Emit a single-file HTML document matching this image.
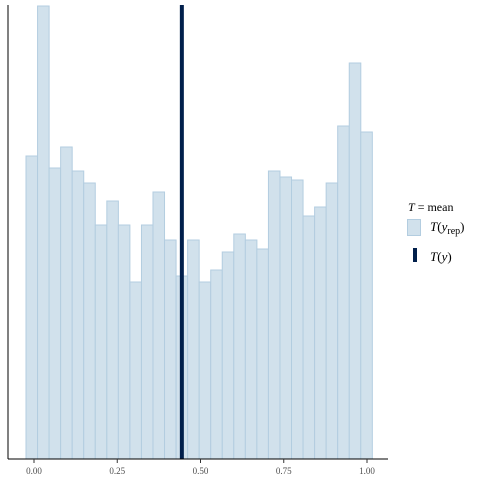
<!DOCTYPE html>
<html><head><meta charset="utf-8"><style>
html,body{margin:0;padding:0;background:#fff;}
svg{display:block;}
</style></head><body>
<svg id="chart" width="480" height="480" xmlns="http://www.w3.org/2000/svg">
<g id="bars"></g>
<line x1="8" y1="5" x2="8" y2="459" stroke="#000" stroke-width="1"/>
<line x1="8" y1="459" x2="388" y2="459" stroke="#000" stroke-width="1"/>
<g id="ticks"></g>
<g font-family="'Liberation Serif', serif" font-size="12" fill="#000">
<text x="408" y="211"><tspan font-style="italic">T</tspan> = mean</text>
<rect x="407.5" y="219.5" width="13" height="16" fill="#d1e1ec" stroke="#b3cde0"/>
<text x="430" y="231" font-size="13"><tspan font-style="italic">T</tspan>(<tspan font-style="italic">y</tspan><tspan font-size="10" dy="3">rep</tspan><tspan dy="-3">)</tspan></text>
<rect x="413" y="248" width="4" height="14" fill="#011f4b"/>
<text x="430" y="261" font-size="13"><tspan font-style="italic">T</tspan>(<tspan font-style="italic">y</tspan>)</text>
</g>
</svg>
<script>
const binStarts = [-0.024,0.0107,0.0453,0.0800,0.1147,0.1493,0.1840,0.2187,0.2533,0.2880,0.3227,0.3573,0.3920,0.4267,0.4613,0.4960,0.5307,0.5653,0.6000,0.6347,0.6693,0.7040,0.7387,0.7733,0.8080,0.8427,0.8773,0.9120,0.9467,0.9813];
const binWidth = 0.03467;
const counts = [101,151,97,104,96,92,78,86,78,59,78,89,73,61,73,59,63,69,75,73,70,96,94,93,81,84,92,111,132,109];
const observedStat = [0.444];
const tickValues = [0, 0.25, 0.5, 0.75, 1];
const tickLabels = ["0.00","0.25","0.50","0.75","1.00"];

const NS = "http://www.w3.org/2000/svg";
function xs(v){ return 34 + v*333; }
function ys(c){ return 459 - c*3; }

const barsG = document.getElementById('bars');
counts.forEach((c,i)=>{
  const r = document.createElementNS(NS,'rect');
  const x0 = xs(binStarts[i]), x1 = xs(binStarts[i]+binWidth);
  r.setAttribute('x', x0);
  r.setAttribute('y', ys(c));
  r.setAttribute('width', x1-x0);
  r.setAttribute('height', 459-ys(c));
  r.setAttribute('fill','#d1e1ec');
  r.setAttribute('stroke','#b3cde0');
  r.setAttribute('stroke-width','1');
  
  
  barsG.appendChild(r);
});
const vl = document.createElementNS(NS,'line');
vl.setAttribute('x1', xs(observedStat[0]));
vl.setAttribute('x2', xs(observedStat[0]));
vl.setAttribute('y1', 5);
vl.setAttribute('y2', 459);
vl.setAttribute('stroke','#011f4b');
vl.setAttribute('stroke-width','4');


barsG.appendChild(vl);

const tg = document.getElementById('ticks');
tickValues.forEach((v,i)=>{
  const l = document.createElementNS(NS,'line');
  l.setAttribute('x1', xs(v)); l.setAttribute('x2', xs(v));
  l.setAttribute('y1', 459); l.setAttribute('y2', 463);
  l.setAttribute('stroke','#333');
  
  
  tg.appendChild(l);
  const t = document.createElementNS(NS,'text');
  t.setAttribute('x', xs(v)); t.setAttribute('y', 474);
  t.setAttribute('text-anchor','middle');
  t.setAttribute('font-family',"'Liberation Serif', serif");
  t.setAttribute('font-size','9');
  t.setAttribute('fill','#4d4d4d');
  t.textContent = tickLabels[i];
  
  
  tg.appendChild(t);
});
</script>
</body></html>
